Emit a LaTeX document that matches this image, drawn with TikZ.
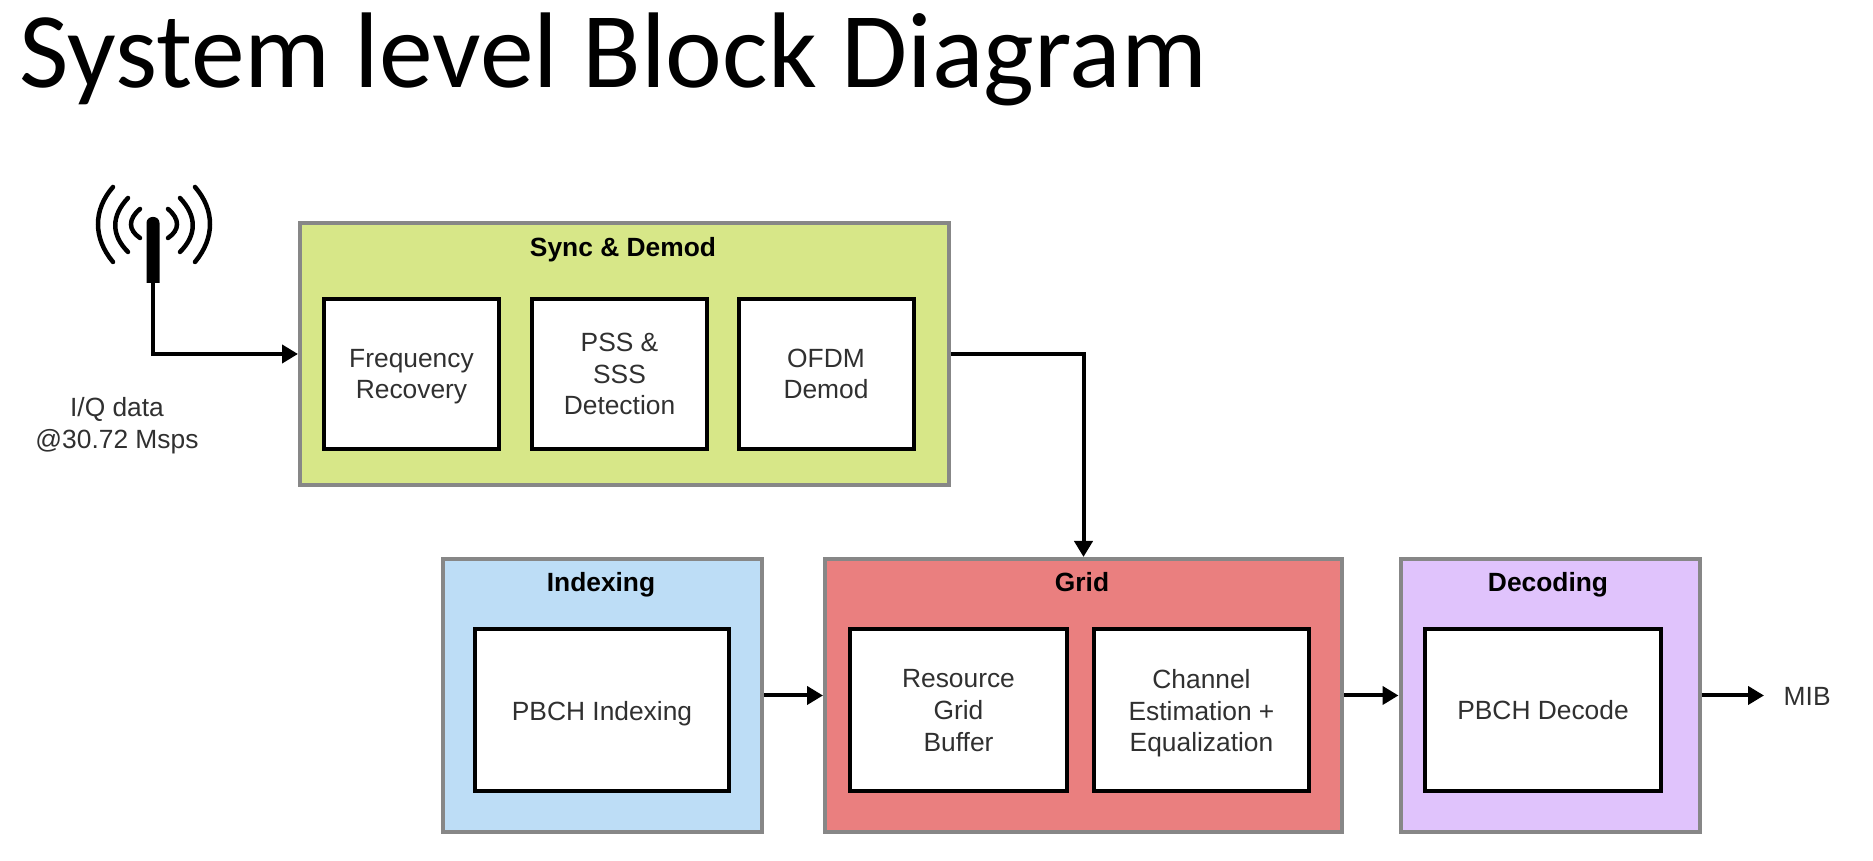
\documentclass[tikz,border=0pt]{standalone}
\usepackage{fontspec}
\setmainfont{Liberation Sans}
\newfontfamily\titlefont{Carlito}
\usetikzlibrary{calc,arrows.meta}
\definecolor{syncgreen}{HTML}{D7E788}
\definecolor{indexblue}{HTML}{BDDDF6}
\definecolor{gridred}{HTML}{EA7F7F}
\definecolor{decodepurple}{HTML}{E0C3FC}
\definecolor{framegray}{HTML}{878787}
\definecolor{textgray}{HTML}{303030}
\newcommand{\flatline}[1]{\raisebox{0pt}[\height][0pt]{#1}}
\begin{document}
\begin{tikzpicture}[
  groupbox/.style={draw=framegray,line width=0.04cm,inner sep=0pt},
  innerbox/.style={draw=black,fill=white,line width=0.04cm,inner sep=0pt,align=center,
    text=textgray,font=\fontsize{7.5}{9}\selectfont},
  grouptitle/.style={font=\fontsize{7.5}{9}\selectfont\bfseries,text=black,text depth=0pt},
  plainlabel/.style={font=\fontsize{7.5}{9}\selectfont,text=textgray,align=center},
  link/.style={draw=black,line width=0.04cm,-{Triangle[length=0.16cm,width=0.18cm]}},
  wave/.style={line width=0.045cm,line cap=round}]

\useasboundingbox (0,0) rectangle (18.73,8.61);

\node[anchor=base west,inner sep=0pt,font=\titlefont\fontsize{30.6}{34}\selectfont] (title) at (0.19,7.73) {System level Block Diagram};

\fill[black] (1.465,5.78) [rounded corners=0.06cm] -- (1.465,6.44) -- (1.595,6.44) [sharp corners] -- (1.595,5.78) -- cycle;
\coordinate (mastfoot) at (1.53,5.78);
\draw[wave] (1.13,6.74) .. controls (0.93,6.51) and (0.93,6.23) .. (1.13,5.99);
\draw[wave] (1.28,6.63) .. controls (1.11,6.45) and (1.11,6.26) .. (1.28,6.09);
\draw[wave] (1.40,6.52) .. controls (1.28,6.42) and (1.28,6.31) .. (1.40,6.23);
\draw[wave] (1.95,6.74) .. controls (2.15,6.51) and (2.15,6.23) .. (1.95,5.99);
\draw[wave] (1.80,6.63) .. controls (1.97,6.45) and (1.97,6.26) .. (1.80,6.09);
\draw[wave] (1.68,6.52) .. controls (1.80,6.42) and (1.80,6.31) .. (1.68,6.23);

\node[plainlabel] (iqdata) at (1.17,4.38) {I/Q data\\\flatline{@30.72 Msps}};

\node[groupbox,fill=syncgreen,minimum width=6.49cm,minimum height=2.62cm] (sync) at (6.245,5.07) {};
\node[grouptitle] (synctitle) at (6.23,6.14) {Sync \& Demod};
\node[innerbox,minimum width=1.75cm,minimum height=1.50cm] (freq) at (4.115,4.87) {Frequency\\\flatline{Recovery}};
\node[innerbox,minimum width=1.75cm,minimum height=1.50cm] (pss) at (6.195,4.87) {PSS \&\\SSS\\Detection};
\node[innerbox,minimum width=1.75cm,minimum height=1.50cm] (ofdm) at (8.26,4.87) {OFDM\\Demod};

\node[groupbox,fill=indexblue,minimum width=3.19cm,minimum height=2.73cm] (indexing) at (6.025,1.655) {};
\node[grouptitle] (indexingtitle) at (6.01,2.79) {Indexing};
\node[innerbox,minimum width=2.54cm,minimum height=1.62cm] (pbchidx) at (6.02,1.505) {\flatline{PBCH Indexing}};

\node[groupbox,fill=gridred,minimum width=5.17cm,minimum height=2.73cm] (grid) at (10.835,1.655) {};
\node[grouptitle] (gridtitle) at (10.82,2.79) {Grid};
\node[innerbox,minimum width=2.17cm,minimum height=1.62cm] (rgbuf) at (9.585,1.505) {Resource\\Grid\\Buffer};
\node[innerbox,minimum width=2.15cm,minimum height=1.62cm] (chest) at (12.015,1.505) {Channel\\Estimation +\\\flatline{Equalization}};

\node[groupbox,fill=decodepurple,minimum width=2.99cm,minimum height=2.73cm] (decoding) at (15.50,1.655) {};
\node[grouptitle] (decodingtitle) at (15.48,2.79) {Decoding};
\node[innerbox,minimum width=2.36cm,minimum height=1.62cm] (pbchdec) at (15.43,1.505) {PBCH Decode};

\node[plainlabel,anchor=west,inner sep=0pt] (mib) at (17.83,1.65) {MIB};
\coordinate (mibend) at (17.64,1.655);

\draw[link] (mastfoot) |- (sync.west);
\draw[link] (sync.east) -| (grid.north);
\draw[link] (indexing.east) -- (grid.west);
\draw[link] (grid.east) -- (decoding.west);
\draw[link] (decoding.east) -- (mibend);

\end{tikzpicture}
\end{document}
